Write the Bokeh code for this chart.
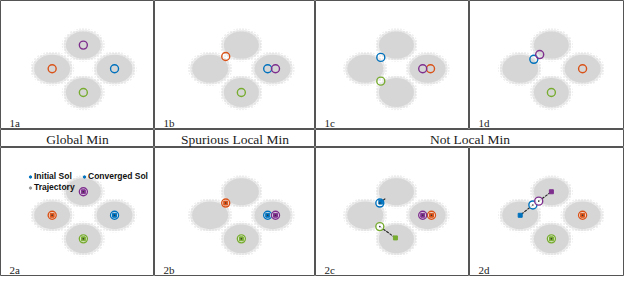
from bokeh.plotting import figure
from bokeh.layouts import column, row
from bokeh.models import Range1d, Label, Legend, LegendItem, ColumnDataSource
from bokeh.embed import file_html
from bokeh.resources import INLINE

# ---------------- data ----------------
# four Gaussian clusters (centre and extent, in data units)
cluster_x = [0.0, -3.2, 3.2, 0.0]
cluster_y = [2.5, 0.0, 0.0, -2.5]
cloud_w = [3.9, 4.0, 4.0, 3.9]
cloud_h = [3.1, 3.2, 3.2, 3.3]

# four solutions: blue, orange, purple, green
sol_colors = ["#0072BD", "#D95319", "#7E2F8E", "#77AC30"]

panel_ids = ["a", "b", "c", "d"]
col_titles = ["Global Min", "Spurious Local Min", "Not Local Min"]

# row 1: solution locations
row1_x = {"a": [3.2, -3.2, 0.0, 0.0],
          "b": [2.7, -1.6, 3.5, 0.0],
          "c": [-1.6, 3.5, 2.7, -1.6],
          "d": [-1.8, 3.2, -1.2, 0.0]}
row1_y = {"a": [0.0, 0.0, 2.5, -2.5],
          "b": [0.0, 1.3, 0.0, -2.5],
          "c": [1.2, 0.0, 0.0, -1.3],
          "d": [1.0, 0.0, 1.5, -2.5]}

# row 2: initial solutions
init_x = {"a": [3.2, -3.2, 0.0, 0.0],
          "b": [2.7, -1.6, 3.5, 0.0],
          "c": [-1.7, 3.6, 2.7, -1.7],
          "d": [-1.9, 3.2, -1.3, 0.0]}
init_y = {"a": [0.0, 0.0, 2.5, -2.5],
          "b": [0.0, 1.3, 0.0, -2.5],
          "c": [1.3, 0.0, 0.0, -1.2],
          "d": [1.1, 0.0, 1.5, -2.5]}
# row 2: converged solutions
conv_x = {"a": [3.2, -3.2, 0.0, 0.0],
          "b": [2.7, -1.6, 3.5, 0.0],
          "c": [-1.6, 3.6, 2.7, -0.1],
          "d": [-3.2, 3.2, 0.0, 0.0]}
conv_y = {"a": [0.0, 0.0, 2.5, -2.5],
          "b": [0.0, 1.3, 0.0, -2.5],
          "c": [1.4, 0.0, 0.0, -2.4],
          "d": [0.0, 0.0, 2.5, -2.5]}
# row 2: trajectories (paths)
traj_x = {"c": [[-1.7, -1.1], [-1.7, -0.1]],
          "d": [[-1.9, -3.2], [-1.3, 0.0]]}
traj_y = {"c": [[1.3, 1.8], [-1.2, -2.4]],
          "d": [[1.1, 0.0], [1.5, 2.5]]}

legend_labels = ["Initial Sol", "Converged Sol", "Trajectory"]

# ---------------- layout ----------------
col_edges = [0, 158, 323, 481, 640]        # reference pixels
col_centre = [85, 247, 406, 565]
row_edges = [0, 136, 155, 292]
row_centre_off = 72
UNIT = 10.0   # reference px per data unit

widths = [154, 161, 154, 155]
heights = [129, 18, 129]

OUTLINE = "#555555"
SERIF = "Liberation Serif"
NAN = float("nan")


def base_fig(w, h, xr, yr):
    p = figure(width=w, height=h, x_range=xr, y_range=yr,
               x_axis_type=None, y_axis_type=None,
               toolbar_location=None, output_backend="svg",
               min_border=0, background_fill_color="white",
               border_fill_color="white")
    p.grid.visible = False
    p.outline_line_color = OUTLINE
    p.outline_line_width = 1
    return p


def panel(ci, ri):
    x0 = -(col_centre[ci] - col_edges[ci]) / UNIT
    x1 = (col_edges[ci + 1] - col_centre[ci]) / UNIT
    rh = row_edges[ri + 1] - row_edges[ri]
    y1 = row_centre_off / UNIT
    y0 = -(rh - row_centre_off) / UNIT
    p = base_fig(widths[ci], heights[ri], Range1d(x0, x1), Range1d(y0, y1))
    # clouds: speckled fringe + solid core
    p.ellipse(x=cluster_x, y=cluster_y,
              width=[w * 1.14 for w in cloud_w],
              height=[h * 1.14 for h in cloud_h],
              fill_alpha=0, line_color=None,
              hatch_pattern="dot", hatch_color="#d8d8d8",
              hatch_scale=3, hatch_weight=1.2)
    for k, a in [(1.04, 0.45), (0.92, 1.0)]:
        p.ellipse(x=cluster_x, y=cluster_y,
                  width=[w * k for w in cloud_w],
                  height=[h * k for h in cloud_h],
                  fill_color="#d6d6d6", fill_alpha=a, line_color=None)
    return p


figs_top = []
for ci, pid in enumerate(panel_ids):
    p = panel(ci, 0)
    p.scatter(x=row1_x[pid], y=row1_y[pid], marker="circle", size=8,
              fill_color=None, line_color=sol_colors, line_width=1.4)
    p.add_layout(Label(x=9, y=7, x_units="screen", y_units="screen",
                       text="1" + pid, text_font=SERIF, text_font_size="11px",
                       text_color="#222222", text_baseline="alphabetic"))
    figs_top.append(p)

figs_bot = []
for ci, pid in enumerate(panel_ids):
    p = panel(ci, 2)
    if pid in traj_x:
        p.multi_line(xs=traj_x[pid], ys=traj_y[pid], line_color="#222222",
                     line_width=1.1, line_dash="3 1")
    p.scatter(x=init_x[pid], y=init_y[pid], marker="circle", size=8,
              fill_color="white", fill_alpha=0.8, line_color=sol_colors,
              line_width=1.4)
    p.scatter(x=conv_x[pid], y=conv_y[pid], marker="square", size=4,
              fill_color=sol_colors, line_color=sol_colors)
    p.scatter(x=init_x[pid], y=init_y[pid], marker="circle", size=1.6,
              fill_color="#333333", line_color=None)
    p.add_layout(Label(x=9, y=7, x_units="screen", y_units="screen",
                       text="2" + pid, text_font=SERIF, text_font_size="11px",
                       text_color="#222222", text_baseline="alphabetic"))
    if pid == "a":
        def dummy(marker, size, color):
            return p.scatter("x", "y",
                             source=ColumnDataSource(dict(x=[NAN], y=[NAN])),
                             marker=marker, size=size, color=color)
        r_init = dummy("circle", 3.5, sol_colors[0])
        r_conv = dummy("circle", 3.0, sol_colors[0])
        r_traj = dummy("circle", 2.5, "#999999")
        leg = Legend(items=[LegendItem(label=legend_labels[0], renderers=[r_init]),
                            LegendItem(label=legend_labels[1], renderers=[r_conv]),
                            LegendItem(label=legend_labels[2], renderers=[r_traj])],
                     orientation="horizontal", ncols=2,
                     location=(27, 84),
                     glyph_width=6, glyph_height=9, label_standoff=1,
                     label_height=9, label_width=46, spacing=1, padding=0, margin=0,
                     label_text_font="Liberation Sans",
                     label_text_font_style="bold",
                     label_text_font_size="8.5px",
                     label_text_color="#111111",
                     background_fill_alpha=0, border_line_alpha=0)
        p.add_layout(leg)
    figs_bot.append(p)

title_widths = [widths[0], widths[1], widths[2] + widths[3]]
figs_mid = []
for w, t in zip(title_widths, col_titles):
    p = base_fig(w, heights[1], Range1d(0, 1), Range1d(0, 1))
    p.add_layout(Label(x=w / 2, y=heights[1] / 2 - 1, x_units="screen",
                       y_units="screen", text=t, text_font=SERIF,
                       text_font_size="13.5px", text_color="#222222",
                       text_align="center", text_baseline="middle"))
    figs_mid.append(p)

layout = column(row(*figs_top), row(*figs_mid), row(*figs_bot))

open("out.html", "w").write(file_html(layout, INLINE))
